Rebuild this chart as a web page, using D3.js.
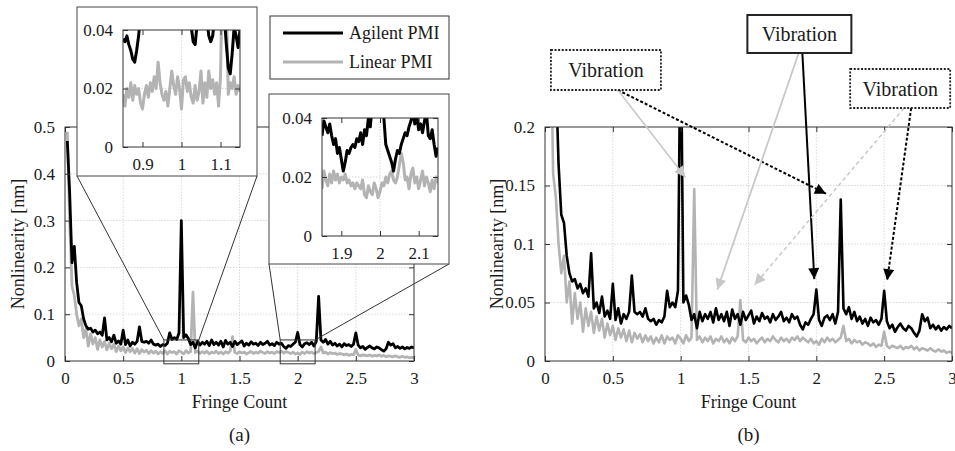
<!DOCTYPE html>
<html>
<head>
<meta charset="utf-8">
<script src="https://cdn.jsdelivr.net/npm/d3@7"></script>
<style>
  body { margin: 0; background: #fff; }
  svg text { font-family: "Liberation Serif", "Times New Roman", serif; fill: #1a1a1a; }
</style>
</head>
<body>
<div id="chart"></div>
<script>

// fringe count sampled every 0.02 starting at 0.02
const fringeStep = 0.02 ;
const agilentPMI = [
  0.47, 0.36, 0.21, 0.245, 0.168, 0.125, 0.118, 0.09, 0.075, 0.068,
  0.07, 0.062, 0.066, 0.058, 0.062, 0.055, 0.092, 0.045, 0.05, 0.041,
  0.055, 0.038, 0.043, 0.036, 0.066, 0.035, 0.045, 0.032, 0.04, 0.036,
  0.042, 0.073, 0.042, 0.04, 0.042, 0.038, 0.045, 0.036, 0.034, 0.036,
  0.031, 0.035, 0.033, 0.038, 0.06, 0.046, 0.05, 0.046, 0.06, 0.30,
  0.05, 0.056, 0.048, 0.035, 0.04, 0.028, 0.042, 0.034, 0.04, 0.036,
  0.042, 0.033, 0.045, 0.035, 0.04, 0.034, 0.042, 0.03, 0.044, 0.036,
  0.04, 0.031, 0.042, 0.035, 0.039, 0.043, 0.032, 0.038, 0.034, 0.041,
  0.036, 0.038, 0.033, 0.04, 0.035, 0.038, 0.042, 0.034, 0.037, 0.033,
  0.04, 0.036, 0.038, 0.031, 0.027, 0.033, 0.031, 0.036, 0.04, 0.061,
  0.035, 0.03, 0.037, 0.039, 0.035, 0.04, 0.032, 0.042, 0.138, 0.045,
  0.04, 0.046, 0.036, 0.042, 0.034, 0.038, 0.032, 0.036, 0.03, 0.037,
  0.033, 0.035, 0.031, 0.036, 0.06, 0.034, 0.028, 0.031, 0.025, 0.029,
  0.032, 0.028, 0.026, 0.03, 0.028, 0.024, 0.021, 0.026, 0.04, 0.034,
  0.037, 0.028, 0.031, 0.027, 0.03, 0.026, 0.029, 0.027, 0.03, 0.028
] ;
const linearPMI = [
  0.49, 0.30, 0.16, 0.14, 0.10, 0.075, 0.09, 0.05, 0.068, 0.032,
  0.058, 0.036, 0.05, 0.025, 0.045, 0.03, 0.042, 0.024, 0.038, 0.026,
  0.036, 0.02, 0.032, 0.022, 0.03, 0.018, 0.028, 0.02, 0.027, 0.017,
  0.026, 0.016, 0.024, 0.019, 0.023, 0.016, 0.022, 0.017, 0.021, 0.015,
  0.02, 0.016, 0.022, 0.015, 0.021, 0.018, 0.02, 0.015, 0.022, 0.019,
  0.015, 0.022, 0.017, 0.02, 0.147, 0.018, 0.021, 0.016, 0.02, 0.017,
  0.021, 0.015, 0.019, 0.017, 0.021, 0.016, 0.019, 0.015, 0.02, 0.017,
  0.021, 0.052, 0.018, 0.016, 0.02, 0.017, 0.019, 0.015, 0.018, 0.02,
  0.016, 0.019, 0.017, 0.021, 0.018, 0.016, 0.02, 0.017, 0.019, 0.016,
  0.02, 0.018, 0.021, 0.017, 0.02, 0.018, 0.016, 0.019, 0.015, 0.017,
  0.014, 0.019, 0.016, 0.02, 0.017, 0.019, 0.016, 0.018, 0.02, 0.03,
  0.017, 0.019, 0.015, 0.018, 0.016, 0.017, 0.014, 0.016, 0.015, 0.013,
  0.015, 0.012, 0.014, 0.013, 0.025, 0.013, 0.011, 0.013, 0.012, 0.011,
  0.013, 0.01, 0.012, 0.011, 0.013, 0.01, 0.012, 0.009, 0.011, 0.01,
  0.009, 0.011, 0.009, 0.008, 0.01, 0.008, 0.009, 0.007, 0.008, 0.007
] ;

// zoomed views, sampled every 0.005
const insetStep = 0.005 ;
const inset1Start = 0.85 ;
const inset1Agilent = [
  0.037, 0.036, 0.038, 0.035, 0.033, 0.03, 0.029, 0.033, 0.038, 0.045,
  0.05, 0.06, 0.055, 0.05, 0.048, 0.052, 0.047, 0.05, 0.049, 0.046,
  0.05, 0.048, 0.045, 0.05, 0.048, 0.055, 0.06, 0.09, 0.18, 0.28,
  0.30, 0.26, 0.12, 0.06, 0.045, 0.041, 0.036, 0.035, 0.042, 0.05,
  0.055, 0.052, 0.048, 0.044, 0.038, 0.036, 0.038, 0.044, 0.05, 0.046,
  0.045, 0.042, 0.044, 0.035, 0.027, 0.025, 0.032, 0.041, 0.038, 0.034,
  0.04
] ;
const inset1Linear = [
  0.018, 0.014, 0.02, 0.017, 0.022, 0.016, 0.021, 0.018, 0.02, 0.015,
  0.013, 0.018, 0.021, 0.017, 0.022, 0.019, 0.024, 0.02, 0.029, 0.022,
  0.018, 0.016, 0.019, 0.014, 0.02, 0.026, 0.021, 0.018, 0.024, 0.02,
  0.013, 0.023, 0.024, 0.019, 0.022, 0.017, 0.015, 0.021, 0.016, 0.019,
  0.026, 0.015, 0.022, 0.017, 0.026, 0.02, 0.023, 0.018, 0.022, 0.014,
  0.024, 0.06, 0.147, 0.05, 0.018, 0.022, 0.02, 0.024, 0.018, 0.021,
  0.019
] ;
const inset2Start = 1.85 ;
const inset2Agilent = [
  0.034, 0.039, 0.037, 0.035, 0.038, 0.034, 0.031, 0.033, 0.028, 0.03,
  0.026, 0.022, 0.025, 0.029, 0.028, 0.03, 0.031, 0.03, 0.033, 0.032,
  0.035, 0.031, 0.036, 0.034, 0.04, 0.037, 0.045, 0.05, 0.058, 0.061,
  0.058, 0.045, 0.04, 0.031, 0.029, 0.027, 0.025, 0.022, 0.026, 0.029,
  0.028, 0.031, 0.033, 0.035, 0.034, 0.037, 0.039, 0.042, 0.038, 0.041,
  0.036, 0.038, 0.035, 0.039, 0.042, 0.034, 0.033, 0.036, 0.031, 0.027,
  0.03
] ;
const inset2Linear = [
  0.016, 0.022, 0.019, 0.017, 0.021, 0.018, 0.022, 0.019, 0.021, 0.018,
  0.02, 0.019, 0.021, 0.018, 0.019, 0.017, 0.018, 0.016, 0.018, 0.017,
  0.016, 0.019, 0.014, 0.013, 0.017, 0.015, 0.014, 0.018, 0.016, 0.013,
  0.015, 0.018, 0.017, 0.02, 0.018, 0.021, 0.022, 0.019, 0.018, 0.02,
  0.024, 0.028, 0.025, 0.019, 0.02, 0.016, 0.021, 0.023, 0.018, 0.02,
  0.016, 0.019, 0.022, 0.017, 0.02, 0.018, 0.015, 0.019, 0.016, 0.02,
  0.018
] ;

const xTicks = [0, 0.5, 1, 1.5, 2, 2.5, 3] ;
const yTicksA = [0, 0.1, 0.2, 0.3, 0.4, 0.5] ;
const yTicksB = [0, 0.05, 0.1, 0.15, 0.2] ;
const inset1XTicks = [0.9, 1, 1.1] ;
const inset2XTicks = [1.9, 2, 2.1] ;
const insetYTicks = [0, 0.02, 0.04] ;
const seriesNames = ["Agilent PMI", "Linear PMI"] ;

// annotations of panel (b), in data units
const noteBoxes = [
  { x: 0.449, y: 0.2487, w: 110, h: 40, dash: "2,1.6" },
  { x: 1.875, y: 0.2795, w: 104, h: 38, dash: null },
  { x: 2.618, y: 0.2329, w: 100, h: 39, dash: "2,1.6" }
] ;
const noteArrows = [
  { x1: 0.537, y1: 0.2316, x2: 2.071, y2: 0.143, color: "black", dash: "3,2", w: 2 },
  { x1: 0.537, y1: 0.2316, x2: 1.035, y2: 0.157, color: "#c8c8c8", dash: null, w: 1.5 },
  { x1: 1.897, y1: 0.2632, x2: 1.985, y2: 0.070, color: "black", dash: null, w: 2 },
  { x1: 1.870, y1: 0.2632, x2: 1.27, y2: 0.061, color: "#c8c8c8", dash: null, w: 1.8 },
  { x1: 2.699, y1: 0.2162, x2: 2.522, y2: 0.069, color: "black", dash: "3,2", w: 2 },
  { x1: 2.647, y1: 0.2162, x2: 1.544, y2: 0.065, color: "#c8c8c8", dash: "4,3", w: 1.5 }
] ;

const blackCol = "#000" ;
const grayCol = "#b3b3b3" ;

const svg = d3.select("#chart").append("svg")
	.attr("width", 955)
	.attr("height", 451) ;

const defs = svg.append("defs") ;
[["ah-black", "black"], ["ah-gray", "#c8c8c8"]].forEach(function(m) {
	defs.append("marker")
		.attr("id", m[0])
		.attr("viewBox", "0 0 10 10")
		.attr("refX", 10).attr("refY", 5)
		.attr("markerUnits", "userSpaceOnUse")
		.attr("markerWidth", 12).attr("markerHeight", 11)
		.attr("orient", "auto")
		.append("path")
			.attr("d", "M0,0 L10,5 L0,10 z")
			.attr("fill", m[1]) ;
}) ;

function seriesPoints( values, start, step ) {
	return values.map( function(v, i) { return { x: start + i*step, y: v } } ) ;
}

let clipCount = 0 ;
function drawPlot( x, y, xt, yt, opts ) {
	const g = svg.append("g") ;
	const r = x.range(), b = y.range() ;
	if( opts.bg ) {
		g.append("rect")
			.attr("x", r[0]).attr("y", b[1])
			.attr("width", r[1]-r[0]).attr("height", b[0]-b[1])
			.attr("fill", "white") ;
	}
	// grid
	g.selectAll("line.gx").data( xt.slice(1, -1) )
		.enter().append("line")
			.attr("x1", d => x(d)).attr("x2", d => x(d))
			.attr("y1", b[0]).attr("y2", b[1])
			.attr("stroke", "#cfcfcf").attr("stroke-width", 0.8)
			.attr("stroke-dasharray", "1.5,1.5") ;
	g.selectAll("line.gy").data( yt.slice(1, -1) )
		.enter().append("line")
			.attr("y1", d => y(d)).attr("y2", d => y(d))
			.attr("x1", r[0]).attr("x2", r[1])
			.attr("stroke", "#cfcfcf").attr("stroke-width", 0.8)
			.attr("stroke-dasharray", "1.5,1.5") ;

	const id = "clip" + (clipCount++) ;
	defs.append("clipPath").attr("id", id)
		.append("rect")
			.attr("x", r[0]).attr("y", b[1])
			.attr("width", r[1]-r[0]).attr("height", b[0]-b[1]) ;

	const line = d3.line().x(d => x(d.x)).y(d => y(d.y)) ;
	const lines = g.append("g").attr("clip-path", "url(#" + id + ")") ;
	lines.append("path")
		.datum( opts.gray )
		.attr("d", line)
		.attr("fill", "none").attr("stroke", grayCol)
		.attr("stroke-width", opts.lw).attr("stroke-linejoin", "round") ;
	lines.append("path")
		.datum( opts.black )
		.attr("d", line)
		.attr("fill", "none").attr("stroke", blackCol)
		.attr("stroke-width", opts.lw).attr("stroke-linejoin", "round") ;

	const fmt = d3.format("~g") ;
	const tk = 5 ;
	const axB = g.append("g").attr("transform", "translate(0," + b[0] + ")")
		.call( d3.axisBottom(x).tickValues(xt).tickSize(-tk).tickPadding(tk+6).tickFormat(fmt) ) ;
	const axL = g.append("g").attr("transform", "translate(" + r[0] + ",0)")
		.call( d3.axisLeft(y).tickValues(yt).tickSize(-tk).tickPadding(tk+5).tickFormat(fmt) ) ;
	const axT = g.append("g").attr("transform", "translate(0," + b[1] + ")")
		.call( d3.axisTop(x).tickValues(xt).tickSize(-tk).tickFormat("") ) ;
	const axR = g.append("g").attr("transform", "translate(" + r[1] + ",0)")
		.call( d3.axisRight(y).tickValues(yt).tickSize(-tk).tickFormat("") ) ;
	[axB, axL, axT, axR].forEach(function(a) {
		a.select(".domain").remove() ;
		a.selectAll("line").attr("stroke", "#333") ;
		a.selectAll("text")
			.attr("font-family", "Liberation Serif, serif")
			.attr("font-size", opts.fs)
			.attr("fill", "#1a1a1a") ;
	}) ;
	g.append("rect")
		.attr("x", r[0]).attr("y", b[1])
		.attr("width", r[1]-r[0]).attr("height", b[0]-b[1])
		.attr("fill", "none").attr("stroke", "#333").attr("stroke-width", 1) ;
	return g ;
}

const mainBlack = seriesPoints( agilentPMI, fringeStep, fringeStep ) ;
const mainGray = seriesPoints( linearPMI, fringeStep, fringeStep ) ;

// ---------- panel (a)
const xA = d3.scaleLinear().domain([0, 3]).range([65, 414]) ;
const yA = d3.scaleLinear().domain([0, 0.5]).range([361, 127]) ;
drawPlot( xA, yA, xTicks, yTicksA, { black: mainBlack, gray: mainGray, lw: 2.8, fs: 17 } ) ;

// zoom rectangles and leader lines
const zoomRanges = [
	{ x0: 0.85, x1: 1.15, box: [77, 7, 257, 176], ax: [123, 240, 147, 30], xt: inset1XTicks,
	  black: seriesPoints( inset1Agilent, inset1Start, insetStep ),
	  gray: seriesPoints( inset1Linear, inset1Start, insetStep ) },
	{ x0: 1.85, x1: 2.15, box: [269, 94, 449, 264], ax: [322, 438, 236, 118], xt: inset2XTicks,
	  black: seriesPoints( inset2Agilent, inset2Start, insetStep ),
	  gray: seriesPoints( inset2Linear, inset2Start, insetStep ) }
] ;
const zr0 = -0.006, zr1 = 0.045 ;
zoomRanges.forEach(function(z) {
	svg.append("rect")
		.attr("x", xA(z.x0)).attr("y", yA(zr1))
		.attr("width", xA(z.x1) - xA(z.x0)).attr("height", yA(zr0) - yA(zr1))
		.attr("fill", "none").attr("stroke", "#333").attr("stroke-width", 1) ;
	svg.append("line")
		.attr("x1", z.box[0]).attr("y1", z.box[3])
		.attr("x2", xA(z.x0)).attr("y2", yA(zr1))
		.attr("stroke", "#333").attr("stroke-width", 1) ;
	svg.append("line")
		.attr("x1", z.box[2]).attr("y1", z.box[3])
		.attr("x2", xA(z.x1)).attr("y2", yA(zr1))
		.attr("stroke", "#333").attr("stroke-width", 1) ;
	svg.append("rect")
		.attr("x", z.box[0]).attr("y", z.box[1])
		.attr("width", z.box[2] - z.box[0]).attr("height", z.box[3] - z.box[1])
		.attr("fill", "white").attr("stroke", "#444").attr("stroke-width", 1) ;
	const xi = d3.scaleLinear().domain([z.x0, z.x1]).range([z.ax[0], z.ax[1]]) ;
	const yi = d3.scaleLinear().domain([0, 0.04]).range([z.ax[2], z.ax[3]]) ;
	drawPlot( xi, yi, z.xt, insetYTicks, { black: z.black, gray: z.gray, lw: 3, fs: 17, bg: true } ) ;
}) ;

// legend
const leg = svg.append("g") ;
leg.append("rect")
	.attr("x", 270).attr("y", 16).attr("width", 179).attr("height", 63)
	.attr("fill", "white").attr("stroke", "#333").attr("stroke-width", 1) ;
[blackCol, grayCol].forEach(function(c, i) {
	leg.append("line")
		.attr("x1", 283).attr("x2", 343)
		.attr("y1", 33 + i*29).attr("y2", 33 + i*29)
		.attr("stroke", c).attr("stroke-width", 3) ;
	leg.append("text")
		.attr("x", 349).attr("y", 39 + i*29)
		.attr("font-size", 18)
		.text( seriesNames[i] ) ;
}) ;

// ---------- panel (b)
const xB = d3.scaleLinear().domain([0, 3]).range([545, 952]) ;
const yB = d3.scaleLinear().domain([0, 0.2]).range([361, 127]) ;
drawPlot( xB, yB, xTicks, yTicksB, { black: mainBlack, gray: mainGray, lw: 2.6, fs: 17 } ) ;

// axis labels
[[xA, yA, 18, "(a)"], [xB, yB, 497, "(b)"]].forEach(function(p) {
	const cx = (p[0].range()[0] + p[0].range()[1]) / 2 ;
	svg.append("text")
		.attr("x", cx).attr("y", 408)
		.attr("text-anchor", "middle").attr("font-size", 18)
		.text("Fringe Count") ;
	svg.append("text")
		.attr("x", cx).attr("y", 441)
		.attr("text-anchor", "middle").attr("font-size", 19)
		.text(p[3]) ;
	svg.append("text")
		.attr("transform", "translate(" + p[2] + ",244) rotate(-90)")
		.attr("text-anchor", "middle").attr("dy", "0.35em").attr("font-size", 18)
		.text("Nonlinearity [nm]") ;
}) ;

// annotation arrows and boxes
svg.append("g").selectAll("line")
	.data( noteArrows )
	.enter().append("line")
		.attr("x1", d => xB(d.x1)).attr("y1", d => yB(d.y1))
		.attr("x2", d => xB(d.x2)).attr("y2", d => yB(d.y2))
		.attr("stroke", d => d.color)
		.attr("stroke-width", d => d.w)
		.attr("stroke-dasharray", d => d.dash)
		.attr("marker-end", d => d.color === "black" ? "url(#ah-black)" : "url(#ah-gray)") ;

const notes = svg.append("g").selectAll("g")
	.data( noteBoxes )
	.enter().append("g")
		.attr("transform", d => "translate(" + xB(d.x) + "," + yB(d.y) + ")") ;
notes.append("rect")
	.attr("x", d => -d.w/2).attr("y", d => -d.h/2)
	.attr("width", d => d.w).attr("height", d => d.h)
	.attr("fill", "white").attr("stroke", "#222")
	.attr("stroke-width", d => d.dash ? 1.8 : 2)
	.attr("stroke-dasharray", d => d.dash) ;
notes.append("text")
	.attr("text-anchor", "middle").attr("dy", "0.35em")
	.attr("font-size", 20)
	.text("Vibration") ;

</script>
</body>
</html>
